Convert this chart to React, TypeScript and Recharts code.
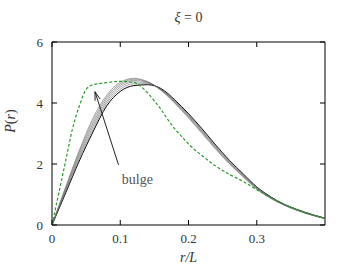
import { LineChart, Line, XAxis, YAxis, ReferenceArea, ReferenceLine, ReferenceDot } from "recharts"

// r/L sample points
const rGrid = [0, 0.02, 0.04, 0.06, 0.08, 0.1, 0.12, 0.14, 0.16, 0.18, 0.2, 0.22, 0.24, 0.26, 0.28, 0.3, 0.32, 0.34, 0.36, 0.38, 0.4]
const curve1 = [0, 1.05, 2.1, 3.05, 3.9, 4.38, 4.57, 4.6, 4.47, 4.1, 3.65, 3.15, 2.62, 2.12, 1.68, 1.25, 0.93, 0.68, 0.5, 0.35, 0.22]
const curve2 = [0, 1.09, 2.18, 3.14, 3.98, 4.45, 4.63, 4.63, 4.45, 4.08, 3.62, 3.12, 2.6, 2.1, 1.66, 1.24, 0.92, 0.68, 0.49, 0.34, 0.22]
const curve3 = [0, 1.13, 2.25, 3.23, 4.05, 4.52, 4.69, 4.66, 4.44, 4.06, 3.6, 3.09, 2.57, 2.07, 1.64, 1.22, 0.91, 0.67, 0.49, 0.34, 0.22]
const curve4 = [0, 1.17, 2.32, 3.32, 4.12, 4.58, 4.74, 4.68, 4.43, 4.04, 3.57, 3.06, 2.54, 2.05, 1.62, 1.21, 0.9, 0.66, 0.48, 0.33, 0.21]
const curve5 = [0, 1.21, 2.39, 3.41, 4.19, 4.63, 4.78, 4.69, 4.42, 4.01, 3.54, 3.03, 2.51, 2.02, 1.6, 1.19, 0.89, 0.66, 0.48, 0.33, 0.21]
const curve6 = [0, 1.25, 2.45, 3.5, 4.25, 4.68, 4.81, 4.7, 4.41, 3.99, 3.51, 3.0, 2.48, 2.0, 1.58, 1.18, 0.88, 0.65, 0.47, 0.33, 0.21]

const rGreen = [0, 0.01, 0.02, 0.03, 0.04, 0.05, 0.06, 0.07, 0.08, 0.1, 0.12, 0.13, 0.14, 0.15, 0.16, 0.17, 0.18, 0.19, 0.2, 0.21, 0.22, 0.24, 0.26, 0.28, 0.3, 0.32, 0.34, 0.36, 0.38, 0.4]
const green = [0, 1.05, 2.1, 3.15, 3.9, 4.45, 4.6, 4.64, 4.67, 4.71, 4.68, 4.55, 4.33, 4.07, 3.78, 3.45, 3.15, 2.9, 2.66, 2.45, 2.27, 1.93, 1.66, 1.43, 1.16, 0.9, 0.68, 0.5, 0.35, 0.22]

const xTicks = [0, 0.1, 0.2, 0.3]
const yTicks = [0, 2, 4, 6]

// arrow: tail near the label, head at the bulge
const arrowTail = { x: 0.0975, y: 1.97 }
const arrowHead = { x: 0.063, y: 4.37 }
const labelPos = { x: 0.125, y: 1.52 }

const W = 350
const H = 270
const LEFT = 52
const RIGHT = 325
const TOP = 42
const BOTTOM = 225
const FONT = "'Liberation Serif', 'DejaVu Serif', serif"
const TEXT = "#333"

const toRows = (xs: number[], ys: number[]) => xs.map((x, i) => ({ x, y: ys[i] }))

const blackCurves = [curve1, curve2, curve3, curve4, curve5, curve6]

// eslint-disable-next-line @typescript-eslint/no-explicit-any
const YTick = ({ x, y, payload }: any) => (
  <g>
    <text x={x} y={y} dy="0.35em" textAnchor="end" fontSize={13} fill={TEXT} fontFamily={FONT}>
      {payload.value}
    </text>
    <line x1={LEFT} x2={LEFT + 5} y1={y} y2={y} stroke="#000" />
    <line x1={RIGHT - 5} x2={RIGHT} y1={y} y2={y} stroke="#000" />
  </g>
)

// eslint-disable-next-line @typescript-eslint/no-explicit-any
const XTick = ({ x, y, payload }: any) => (
  <g>
    <text x={x} y={y} dy="0.72em" textAnchor="middle" fontSize={13} fill={TEXT} fontFamily={FONT}>
      {String(payload.value)}
    </text>
    <line x1={x} x2={x} y1={BOTTOM} y2={BOTTOM - 5} stroke="#000" />
    <line x1={x} x2={x} y1={TOP} y2={TOP + 5} stroke="#000" />
  </g>
)

// eslint-disable-next-line @typescript-eslint/no-explicit-any
const Arrow = (p: any) => {
  const { x1, y1, x2, y2 } = p
  const a = Math.atan2(y2 - y1, x2 - x1)
  const len = 9
  const spread = 0.3
  const ax = x2 - len * Math.cos(a - spread)
  const ay = y2 - len * Math.sin(a - spread)
  const bx = x2 - len * Math.cos(a + spread)
  const by = y2 - len * Math.sin(a + spread)
  return (
    <g stroke="#222" strokeWidth={1} fill="none">
      <line x1={x1} y1={y1} x2={x2} y2={y2} />
      <polyline points={`${ax},${ay} ${x2},${y2} ${bx},${by}`} />
    </g>
  )
}

// eslint-disable-next-line @typescript-eslint/no-explicit-any
const BulgeLabel = (p: any) => (
  <text x={p.cx} y={p.cy} dy="0.35em" textAnchor="middle" fontSize={14} fill="#555" fontFamily={FONT}>
    bulge
  </text>
)

export default function App() {
  return (
    <div style={{ position: "relative", width: W, height: H, background: "#fff" }}>
      <style>{`body{margin:0}`}</style>
      <div
        style={{
          position: "absolute",
          left: 0,
          width: LEFT + RIGHT,
          top: 10,
          textAlign: "center",
          fontFamily: FONT,
          fontSize: 14,
          color: TEXT,
        }}
      >
        <i>ξ</i> = 0
      </div>
      <LineChart width={W} height={H} margin={{ top: TOP, right: W - RIGHT, bottom: 0, left: 0 }}>
        <XAxis
          type="number"
          dataKey="x"
          domain={[0, 0.4]}
          ticks={xTicks}
          allowDataOverflow
          axisLine={false}
          tickLine={false}
          tickSize={0}
          tickMargin={9}
          height={H - BOTTOM}
          tick={<XTick />}
          label={{
            content: () => (
              <text x={(LEFT + RIGHT) / 2} y={262} textAnchor="middle" fontSize={14} fill={TEXT} fontFamily={FONT} fontStyle="italic">
                r/L
              </text>
            ),
          }}
        />
        <YAxis
          type="number"
          domain={[0, 6]}
          ticks={yTicks}
          allowDataOverflow
          axisLine={false}
          tickLine={false}
          tickSize={0}
          tickMargin={9}
          width={LEFT}
          tick={<YTick />}
          label={{
            content: () => (
              <text
                x={15}
                y={121}
                transform="rotate(-90 15 121)"
                textAnchor="middle"
                fontSize={14}
                fill={TEXT}
                fontFamily={FONT}
              >
                <tspan fontStyle="italic">P</tspan>(<tspan fontStyle="italic">r</tspan>)
              </text>
            ),
          }}
        />
        <ReferenceArea x1={0} x2={0.4} y1={0} y2={6} fill="none" stroke="#000" strokeWidth={1} ifOverflow="visible" />
        {blackCurves.map((c, i) => (
          <Line
            key={i}
            data={toRows(rGrid, c)}
            dataKey="y"
            type="monotone"
            stroke={i === 0 ? "#000" : "#666"}
            strokeWidth={i === 0 ? 1 : 0.6}
            dot={false}
            isAnimationActive={false}
          />
        ))}
        <Line
          data={toRows(rGreen, green)}
          dataKey="y"
          type="monotone"
          stroke="#2a9a2a"
          strokeWidth={1.2}
          strokeDasharray="3 2"
          dot={false}
          isAnimationActive={false}
        />
        <ReferenceLine segment={[arrowTail, arrowHead]} shape={<Arrow />} ifOverflow="visible" />
        <ReferenceDot x={labelPos.x} y={labelPos.y} r={0} shape={<BulgeLabel />} ifOverflow="visible" />
      </LineChart>
    </div>
  )
}
